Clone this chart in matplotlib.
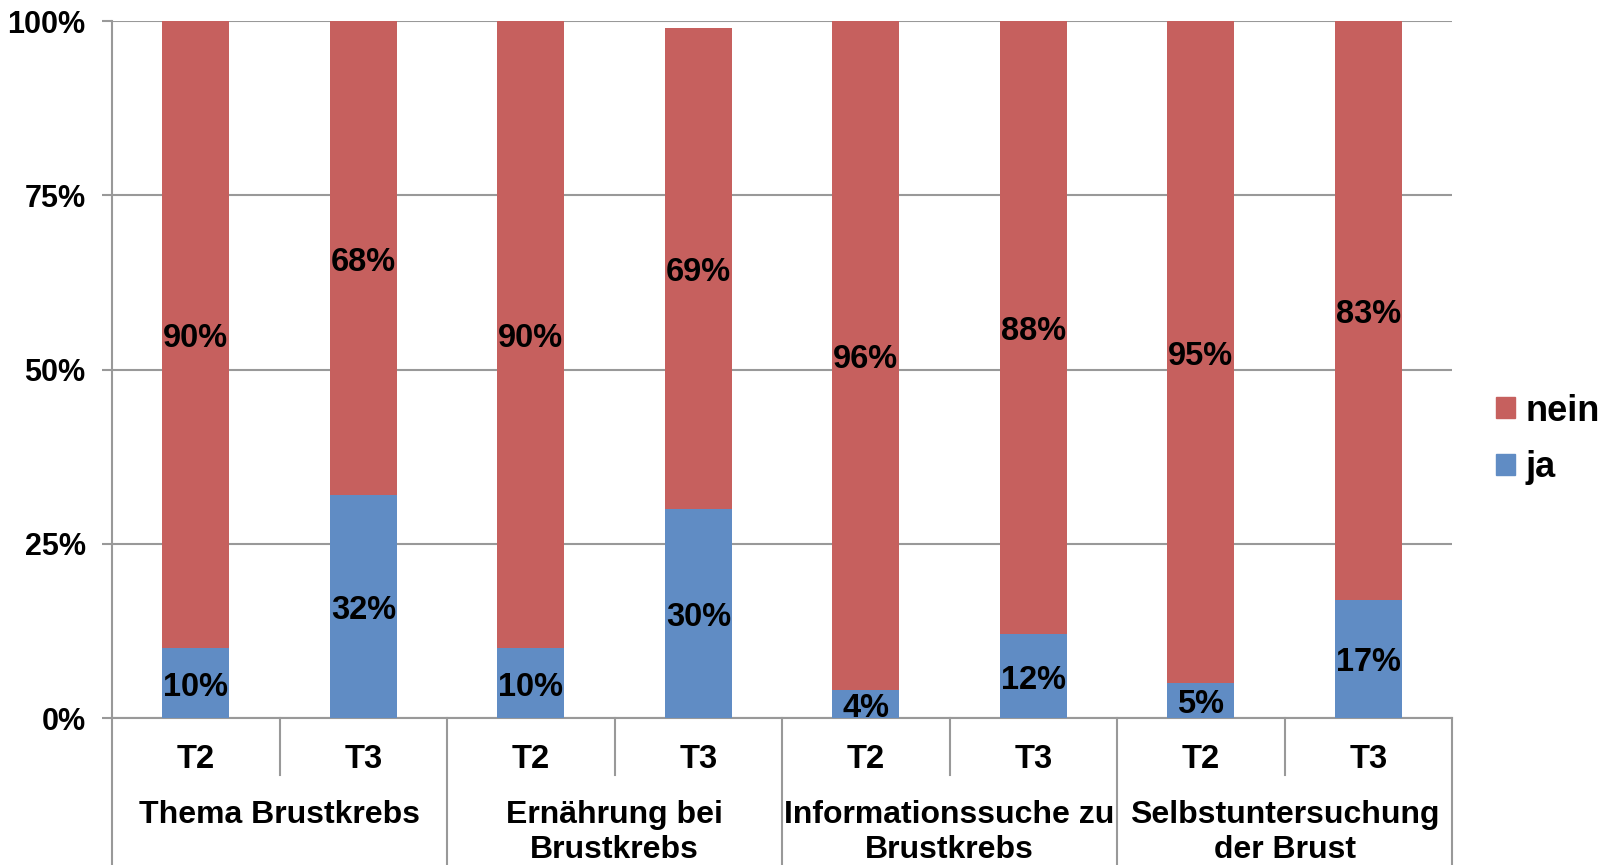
import matplotlib.pyplot as plt
import numpy as np
from matplotlib.patches import Patch

plt.rcParams["font.family"] = ["Liberation Sans", "DejaVu Sans"]
plt.rcParams["font.weight"] = "bold"

GROUPS = [
    "Thema Brustkrebs",
    "Ernährung bei\nBrustkrebs",
    "Informationssuche zu\nBrustkrebs",
    "Selbstuntersuchung\nder Brust",
]
TIMES = ["T2", "T3"]

JA = [10, 32, 10, 30, 4, 12, 5, 17]
NEIN = [90, 68, 90, 69, 96, 88, 95, 83]

Y_TICKS = [0, 25, 50, 75, 100]

RED = "#C6605E"
BLUE = "#608CC4"
GRID = "#999999"


def main() -> None:
    fig = plt.figure(figsize=(16.1, 8.65), dpi=100)
    ax = fig.add_axes([0.0696, 0.1699, 0.8323, 0.8058])

    n = len(JA)
    x = np.arange(n)
    ja = np.array(JA)
    nein = np.array(NEIN)

    ax.bar(x, ja, width=0.4, color=BLUE, zorder=3)
    ax.bar(x, nein, width=0.4, bottom=ja, color=RED, zorder=3)

    for i in range(n):
        ax.annotate(f"{ja[i]}%", (x[i], ja[i] / 2), xytext=(0, -3),
                    textcoords="offset points", ha="center", va="center",
                    fontsize=23.5, fontweight="bold", zorder=4)
        ax.annotate(f"{nein[i]}%", (x[i], ja[i] + nein[i] / 2),
                    xytext=(0, -3), textcoords="offset points", ha="center",
                    va="center", fontsize=23.5, fontweight="bold", zorder=4)

    ax.set_xlim(-0.5, n - 0.5)
    ax.set_ylim(0, 100)
    ax.set_yticks(Y_TICKS)
    ax.set_yticklabels([f"{v}%" for v in Y_TICKS])
    ax.tick_params(axis="y", length=7, width=1.5, color=GRID, pad=12,
                   labelsize=22)
    ax.set_xticks([])
    ax.grid(axis="y", color=GRID, linewidth=1.5, zorder=0)

    for side in ["top", "right"]:
        ax.spines[side].set_visible(False)
    ax.spines["left"].set_color(GRID)
    ax.spines["left"].set_linewidth(1.5)
    ax.spines["bottom"].set_color(GRID)
    ax.spines["bottom"].set_linewidth(1.5)

    # two-level category axis
    trans = ax.get_xaxis_transform()
    for i in range(n):
        ax.text(x[i], -0.059, TIMES[i % 2], transform=trans, ha="center",
                va="center", fontsize=23.5, fontweight="bold")

    for g, label in enumerate(GROUPS):
        ax.text(2 * g + 0.5, -0.117, label, transform=trans, ha="center",
                va="top", fontsize=23, fontweight="bold", linespacing=1.25)

    for g in range(len(GROUPS) + 1):
        ax.plot([2 * g - 0.5] * 2, [0, -0.22], transform=trans, color=GRID,
                linewidth=1.5, clip_on=False)
    for g in range(len(GROUPS)):
        ax.plot([2 * g + 0.5] * 2, [0, -0.082], transform=trans, color=GRID,
                linewidth=1.5, clip_on=False)

    handles = [Patch(color=RED, label="nein"), Patch(color=BLUE, label="ja")]
    fig.legend(
        handles=handles,
        loc="center left",
        bbox_to_anchor=(0.929, 0.492),
        frameon=False,
        prop={"size": 26, "weight": "bold"},
        handlelength=0.53,
        handleheight=0.53,
        handletextpad=0.3,
        labelspacing=0.6,
        borderpad=0,
        borderaxespad=0,
    )

    fig.savefig("out.png", dpi=100)
    plt.close(fig)


if __name__ == "__main__":
    main()
